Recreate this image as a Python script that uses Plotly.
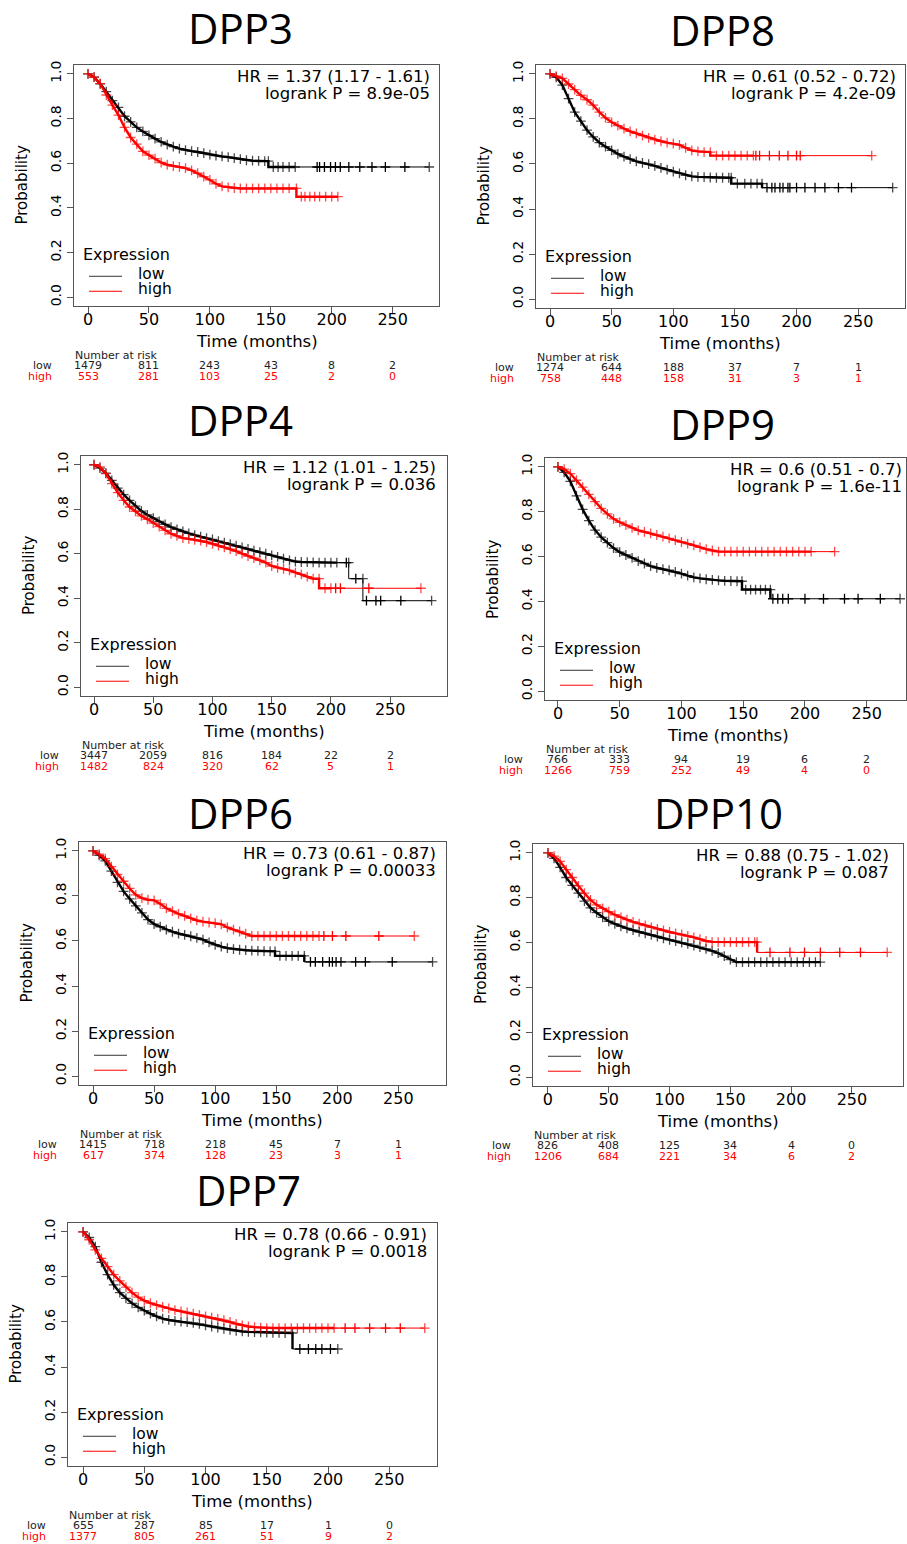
import numpy as np
import plotly.graph_objects as go

W, H = 907, 1544
FONT = "DejaVu Sans"
TITLE_FONT = "Open Sans"
RED = "#ff0000"
BLACK = "#000000"

TICKS_X = [0, 50, 100, 150, 200, 250]
TICKS_Y = [0.0, 0.2, 0.4, 0.6, 0.8, 1.0]
TICK_Y_LABELS = ["0.0", "0.2", "0.4", "0.6", "0.8", "1.0"]

GENES = ["DPP3", "DPP8", "DPP4", "DPP9", "DPP6", "DPP10", "DPP7"]

HR_TEXT = ["HR = 1.37 (1.17 - 1.61)", "HR = 0.61 (0.52 - 0.72)", "HR = 1.12 (1.01 - 1.25)",
           "HR = 0.6 (0.51 - 0.7)", "HR = 0.73 (0.61 - 0.87)", "HR = 0.88 (0.75 - 1.02)",
           "HR = 0.78 (0.66 - 0.91)"]
P_TEXT = ["logrank P = 8.9e-05", "logrank P = 4.2e-09", "logrank P = 0.036",
          "logrank P = 1.6e-11", "logrank P = 0.00033", "logrank P = 0.087",
          "logrank P = 0.0018"]

# Number at risk (at 0, 50, 100, 150, 200, 250 months)
RISK_LOW = [
    [1479, 811, 243, 43, 8, 2],
    [1274, 644, 188, 37, 7, 1],
    [3447, 2059, 816, 184, 22, 2],
    [766, 333, 94, 19, 6, 2],
    [1415, 718, 218, 45, 7, 1],
    [826, 408, 125, 34, 4, 0],
    [655, 287, 85, 17, 1, 0],
]
RISK_HIGH = [
    [553, 281, 103, 25, 2, 0],
    [758, 448, 158, 31, 3, 1],
    [1482, 824, 320, 62, 5, 1],
    [1266, 759, 252, 49, 4, 0],
    [617, 374, 128, 23, 3, 1],
    [1206, 684, 221, 34, 6, 2],
    [1377, 805, 261, 51, 9, 2],
]

# ---------------- Kaplan-Meier curves (time in months, survival probability) -------------
DPP3_low_time = [0, 5, 10, 15, 20, 25, 30, 35, 40, 45, 50, 55, 60, 65, 70, 75, 80, 85, 90, 95, 100,
                 105, 110, 115, 120, 125, 130, 135, 140, 145, 148, 148, 152, 156, 160, 165, 170, 280]
DPP3_low_surv = [1.0, 0.985, 0.955, 0.92, 0.88, 0.85, 0.81, 0.785, 0.76, 0.742, 0.724, 0.71, 0.695,
                 0.683, 0.674, 0.665, 0.658, 0.654, 0.65, 0.645, 0.638, 0.634, 0.63, 0.627, 0.623,
                 0.618, 0.613, 0.611, 0.61, 0.609, 0.609, 0.583, 0.583, 0.583, 0.583, 0.583, 0.583, 0.583]
DPP3_low_cens = [188, 190, 194, 199, 203, 207, 214, 223, 233, 244, 260]

DPP3_high_time = [0, 5, 10, 15, 20, 25, 30, 35, 40, 45, 50, 55, 60, 65, 70, 75, 80, 85, 90, 95, 100,
                  105, 110, 115, 120, 125, 130, 135, 140, 145, 150, 155, 160, 165, 171, 171, 175,
                  178, 182, 186, 190, 195, 200, 205]
DPP3_high_surv = [1.0, 0.985, 0.956, 0.905, 0.86, 0.815, 0.76, 0.715, 0.685, 0.653, 0.636, 0.62,
                  0.603, 0.593, 0.587, 0.583, 0.578, 0.568, 0.555, 0.54, 0.525, 0.508, 0.496, 0.492,
                  0.489, 0.487, 0.487, 0.487, 0.487, 0.487, 0.487, 0.487, 0.487, 0.487, 0.487, 0.45,
                  0.45, 0.45, 0.45, 0.45, 0.45, 0.45, 0.45, 0.45]
DPP3_high_cens = []

DPP8_low_time = [0, 5, 10, 15, 20, 25, 30, 35, 40, 45, 50, 55, 60, 65, 70, 75, 80, 85, 90, 95, 100,
                 105, 110, 115, 120, 125, 130, 135, 140, 145, 147, 147, 152, 158, 163, 168, 172, 172, 278]
DPP8_low_surv = [1.0, 0.985, 0.95, 0.89, 0.83, 0.79, 0.75, 0.72, 0.695, 0.677, 0.66, 0.645, 0.633,
                 0.622, 0.612, 0.605, 0.599, 0.592, 0.583, 0.575, 0.566, 0.558, 0.55, 0.545, 0.543,
                 0.542, 0.54, 0.539, 0.539, 0.539, 0.539, 0.513, 0.513, 0.513, 0.513, 0.513, 0.513,
                 0.495, 0.495]
DPP8_low_cens = [176, 180, 182.5, 186.5, 189, 193, 194.6, 200, 206.8, 215, 223, 234, 244.6]

DPP8_high_time = [0, 5, 10, 15, 20, 25, 30, 35, 40, 45, 50, 55, 60, 65, 70, 75, 80, 85, 90, 95, 100,
                  105, 110, 115, 120, 125, 130, 130, 135, 140, 145, 150, 155, 160, 165, 261]
DPP8_high_surv = [1.0, 0.99, 0.98, 0.955, 0.93, 0.905, 0.885, 0.861, 0.83, 0.805, 0.785, 0.77, 0.757,
                  0.745, 0.736, 0.726, 0.716, 0.708, 0.701, 0.695, 0.69, 0.685, 0.672, 0.66, 0.656,
                  0.653, 0.653, 0.637, 0.637, 0.637, 0.637, 0.637, 0.637, 0.637, 0.637, 0.637]
DPP8_high_cens = [167, 170, 178, 186, 193, 200, 203]

DPP4_low_time = [0, 5, 10, 15, 20, 25, 30, 35, 40, 45, 50, 55, 60, 65, 70, 75, 80, 85, 90, 95, 100,
                 105, 110, 115, 120, 125, 130, 135, 140, 145, 150, 155, 160, 165, 170, 175, 180, 185,
                 190, 195, 200, 205, 215, 215, 227, 227, 285]
DPP4_low_surv = [1.0, 0.985, 0.962, 0.93, 0.895, 0.866, 0.84, 0.814, 0.792, 0.775, 0.76, 0.745, 0.732,
                 0.72, 0.71, 0.70, 0.692, 0.684, 0.677, 0.67, 0.664, 0.657, 0.65, 0.643, 0.636, 0.629,
                 0.622, 0.614, 0.607, 0.60, 0.593, 0.586, 0.578, 0.57, 0.565, 0.563, 0.562, 0.561,
                 0.56, 0.56, 0.56, 0.56, 0.56, 0.488, 0.488, 0.389, 0.389]
DPP4_low_cens = [213, 221, 230, 238, 242, 259]

DPP4_high_time = [0, 5, 10, 15, 20, 25, 30, 35, 40, 45, 50, 55, 60, 65, 70, 75, 80, 85, 90, 95, 100,
                  105, 110, 115, 120, 125, 130, 135, 140, 145, 150, 155, 160, 165, 170, 175, 180, 185,
                  190, 190, 195, 200, 276]
DPP4_high_surv = [1.0, 0.99, 0.96, 0.915, 0.875, 0.84, 0.81, 0.79, 0.77, 0.755, 0.738, 0.722, 0.705,
                  0.69, 0.68, 0.67, 0.667, 0.663, 0.659, 0.652, 0.645, 0.637, 0.629, 0.621, 0.612,
                  0.601, 0.59, 0.58, 0.57, 0.56, 0.545, 0.537, 0.532, 0.525, 0.515, 0.507, 0.497,
                  0.488, 0.488, 0.445, 0.445, 0.445, 0.445]
DPP4_high_cens = [204, 208, 232]

DPP9_low_time = [0, 5, 10, 15, 20, 25, 30, 35, 40, 45, 50, 55, 60, 65, 70, 75, 80, 85, 90, 95, 100,
                 105, 110, 115, 120, 125, 130, 135, 140, 145, 149, 149, 152, 156, 160, 164, 168, 172,
                 172, 277]
DPP9_low_surv = [1.0, 0.975, 0.935, 0.87, 0.81, 0.76, 0.718, 0.687, 0.662, 0.638, 0.62, 0.607, 0.594,
                 0.58, 0.569, 0.557, 0.55, 0.544, 0.539, 0.532, 0.524, 0.515, 0.507, 0.503, 0.499,
                 0.496, 0.494, 0.492, 0.491, 0.49, 0.49, 0.453, 0.453, 0.453, 0.453, 0.453, 0.453,
                 0.453, 0.412, 0.412]
DPP9_low_cens = [174, 178, 182, 186.5, 200, 215, 232, 243, 261]

DPP9_high_time = [0, 5, 10, 15, 20, 25, 30, 35, 40, 45, 50, 55, 60, 65, 70, 75, 80, 85, 90, 95, 100,
                  105, 110, 115, 120, 125, 130, 135, 140, 145, 150, 155, 160, 165, 170, 175, 180, 185,
                  190, 195, 200, 205, 224]
DPP9_high_surv = [1.0, 0.99, 0.97, 0.94, 0.909, 0.877, 0.845, 0.815, 0.79, 0.768, 0.753, 0.74, 0.728,
                  0.717, 0.71, 0.703, 0.696, 0.689, 0.681, 0.673, 0.665, 0.658, 0.65, 0.641, 0.633,
                  0.627, 0.622, 0.622, 0.622, 0.622, 0.622, 0.622, 0.622, 0.622, 0.622, 0.622, 0.622,
                  0.622, 0.622, 0.622, 0.622, 0.622, 0.622]
DPP9_high_cens = []

DPP6_low_time = [0, 5, 10, 15, 20, 25, 30, 35, 40, 45, 50, 55, 60, 65, 70, 75, 80, 85, 90, 95, 100,
                 105, 110, 115, 120, 125, 130, 135, 140, 145, 149, 149, 153, 158, 163, 168, 173, 173, 278]
DPP6_low_surv = [1.0, 0.98, 0.955, 0.91, 0.86, 0.82, 0.787, 0.756, 0.725, 0.695, 0.675, 0.663, 0.65,
                 0.641, 0.633, 0.627, 0.621, 0.614, 0.606, 0.594, 0.583, 0.575, 0.568, 0.564, 0.561,
                 0.559, 0.557, 0.556, 0.555, 0.554, 0.554, 0.534, 0.534, 0.534, 0.534, 0.534, 0.534,
                 0.507, 0.507]
DPP6_low_cens = [178, 182, 188, 193.5, 196, 199, 203, 215, 223, 245]

DPP6_high_time = [0, 5, 10, 15, 20, 25, 30, 35, 40, 45, 50, 55, 60, 65, 70, 75, 80, 85, 90, 95, 100,
                  105, 110, 115, 120, 125, 130, 135, 140, 145, 150, 155, 160, 165, 170, 175, 180, 185, 263]
DPP6_high_surv = [1.0, 0.985, 0.965, 0.93, 0.895, 0.865, 0.833, 0.805, 0.79, 0.783, 0.78, 0.765, 0.745,
                  0.732, 0.72, 0.711, 0.70, 0.691, 0.686, 0.682, 0.679, 0.674, 0.66, 0.65, 0.642,
                  0.632, 0.622, 0.622, 0.622, 0.622, 0.622, 0.622, 0.622, 0.622, 0.622, 0.622, 0.622,
                  0.622, 0.622]
DPP6_high_cens = [189, 196, 207, 234]

DPP10_low_time = [0, 5, 10, 15, 20, 25, 30, 35, 40, 45, 50, 55, 60, 65, 70, 75, 80, 85, 90, 95, 100,
                  105, 110, 115, 120, 125, 130, 135, 140, 145, 150, 155, 160, 165, 170, 175, 180, 185,
                  190, 195, 200, 205, 210, 215, 220, 224]
DPP10_low_surv = [1.0, 0.975, 0.935, 0.89, 0.855, 0.82, 0.785, 0.755, 0.733, 0.712, 0.695, 0.683,
                  0.672, 0.663, 0.655, 0.648, 0.641, 0.634, 0.627, 0.619, 0.612, 0.606, 0.60, 0.594,
                  0.587, 0.58, 0.572, 0.563, 0.553, 0.54, 0.524, 0.513, 0.513, 0.513, 0.513, 0.513,
                  0.513, 0.513, 0.513, 0.513, 0.513, 0.513, 0.513, 0.513, 0.513, 0.513]
DPP10_low_cens = []

DPP10_high_time = [0, 5, 10, 15, 20, 25, 30, 35, 40, 45, 50, 55, 60, 65, 70, 75, 80, 85, 90, 95, 100,
                   105, 110, 115, 120, 125, 130, 135, 140, 145, 150, 155, 160, 165, 170, 172, 172, 279]
DPP10_high_surv = [1.0, 0.985, 0.962, 0.925, 0.89, 0.853, 0.82, 0.79, 0.768, 0.752, 0.738, 0.724,
                   0.712, 0.702, 0.692, 0.684, 0.676, 0.668, 0.661, 0.654, 0.647, 0.641, 0.636, 0.63,
                   0.623, 0.615, 0.607, 0.603, 0.602, 0.602, 0.602, 0.602, 0.602, 0.602, 0.602,
                   0.602, 0.556, 0.556]
DPP10_high_cens = [182.6, 199, 211, 224, 240, 257]

DPP7_low_time = [0, 5, 10, 15, 20, 25, 30, 35, 40, 45, 50, 55, 60, 65, 70, 75, 80, 85, 90, 95, 100,
                 105, 110, 115, 120, 125, 130, 135, 140, 145, 150, 155, 160, 165, 171, 171, 208]
DPP7_low_surv = [1.0, 0.975, 0.934, 0.865, 0.81, 0.765, 0.73, 0.705, 0.683, 0.665, 0.65, 0.637, 0.625,
                 0.615, 0.609, 0.605, 0.602, 0.599, 0.596, 0.592, 0.585, 0.58, 0.575, 0.57, 0.565,
                 0.561, 0.558, 0.556, 0.555, 0.554, 0.553, 0.552, 0.552, 0.551, 0.551, 0.48, 0.48]
DPP7_low_cens = [177, 184, 190, 195, 202]

DPP7_high_time = [0, 5, 10, 15, 20, 25, 30, 35, 40, 45, 50, 55, 60, 65, 70, 75, 80, 85, 90, 95, 100,
                  105, 110, 115, 120, 125, 130, 135, 140, 145, 150, 155, 160, 165, 170, 175, 180, 185,
                  190, 195, 200, 205, 279]
DPP7_high_surv = [1.0, 0.965, 0.92, 0.882, 0.846, 0.81, 0.782, 0.755, 0.73, 0.71, 0.695, 0.684, 0.675,
                  0.667, 0.66, 0.653, 0.647, 0.642, 0.637, 0.631, 0.625, 0.619, 0.614, 0.608, 0.60,
                  0.592, 0.585, 0.58, 0.577, 0.575, 0.573, 0.573, 0.573, 0.573, 0.573, 0.573, 0.573,
                  0.573, 0.573, 0.573, 0.573, 0.573, 0.573]
DPP7_high_cens = [214, 222, 234, 247, 259]

CURVES = {
    "DPP3": {"low": (DPP3_low_time, DPP3_low_surv, DPP3_low_cens),
             "high": (DPP3_high_time, DPP3_high_surv, DPP3_high_cens)},
    "DPP8": {"low": (DPP8_low_time, DPP8_low_surv, DPP8_low_cens),
             "high": (DPP8_high_time, DPP8_high_surv, DPP8_high_cens)},
    "DPP4": {"low": (DPP4_low_time, DPP4_low_surv, DPP4_low_cens),
             "high": (DPP4_high_time, DPP4_high_surv, DPP4_high_cens)},
    "DPP9": {"low": (DPP9_low_time, DPP9_low_surv, DPP9_low_cens),
             "high": (DPP9_high_time, DPP9_high_surv, DPP9_high_cens)},
    "DPP6": {"low": (DPP6_low_time, DPP6_low_surv, DPP6_low_cens),
             "high": (DPP6_high_time, DPP6_high_surv, DPP6_high_cens)},
    "DPP10": {"low": (DPP10_low_time, DPP10_low_surv, DPP10_low_cens),
              "high": (DPP10_high_time, DPP10_high_surv, DPP10_high_cens)},
    "DPP7": {"low": (DPP7_low_time, DPP7_low_surv, DPP7_low_cens),
             "high": (DPP7_high_time, DPP7_high_surv, DPP7_high_cens)},
}

# ---------------- layout of panels (pixel boxes) ----------------
PANELS = [
    dict(box=(74, 61, 439, 303), xr=(-11.5, 288), title=(240, 28), hr_x=431, time_x=257),
    dict(box=(536, 61, 905, 305), xr=(-11.4, 288), title=(722, 30), hr_x=897, time_x=720),
    dict(box=(81, 453, 447, 694), xr=(-11, 298), title=(240, 421), hr_x=437, time_x=264),
    dict(box=(545, 455, 906, 698), xr=(-10.5, 281.8), title=(722, 425), hr_x=903, time_x=728),
    dict(box=(79, 840, 446, 1084), xr=(-11.5, 289), title=(240, 815), hr_x=437, time_x=262),
    dict(box=(533, 842, 903, 1085), xr=(-12.3, 292), title=(718, 815), hr_x=890, time_x=718),
    dict(box=(68, 1222, 437, 1466), xr=(-12.3, 289), title=(249, 1193), hr_x=428, time_x=252),
]


def PX(x):
    return x / W


def PY(y):
    return 1 - y / H


fig = go.Figure()
annotations = []
shapes = []

axis_common = dict(showline=True, mirror=True, linecolor="#555555", linewidth=1,
                   ticks="outside", ticklen=6, tickcolor="#555555", tickwidth=1,
                   showgrid=False, zeroline=False, fixedrange=True)

for i, gene in enumerate(GENES):
    p = PANELS[i]
    k = i + 1
    sfx = "" if k == 1 else str(k)
    xa, ya = "x" + sfx, "y" + sfx
    x0, y0, x1, y1 = p["box"]

    fig.update_layout({
        "xaxis" + sfx: dict(domain=[PX(x0), PX(x1)], range=list(p["xr"]), anchor=ya,
                            tickvals=TICKS_X, ticklabelstandoff=-7,
                            tickfont=dict(family=FONT, size=16, color="black"),
                            **axis_common),
        "yaxis" + sfx: dict(domain=[PY(y1), PY(y0)], range=[-0.04, 1.04], anchor=xa,
                            tickvals=TICKS_Y, ticktext=TICK_Y_LABELS, tickangle=-90,
                            tickfont=dict(family=FONT, size=14, color="black"),
                            **axis_common),
    })

    for grp, col in (("low", BLACK), ("high", RED)):
        t, s, c = CURVES[gene][grp]
        t = np.asarray(t, float)
        s = np.asarray(s, float)
        # heavier band where censor marks are dense (before the first large gap in time)
        gaps = np.nonzero(np.diff(t) > 8)[0]
        m = (gaps[0] + 1) if len(gaps) else len(t)
        fig.add_trace(go.Scatter(
            x=t[:m], y=s[:m], mode="lines", xaxis=xa, yaxis=ya, showlegend=False,
            hoverinfo="skip", line=dict(color=col, width=2.4),
        ))
        sizes = [0 if (j > 0 and t[j] == t[j - 1]) else 7 for j in range(len(t))]
        fig.add_trace(go.Scatter(
            x=t, y=s, mode="lines+markers", xaxis=xa, yaxis=ya, showlegend=False,
            hoverinfo="skip",
            line=dict(color=col, width=1),
            marker=dict(symbol="cross-thin", size=sizes, color=col, line=dict(color=col, width=1.3)),
        ))
        if len(c):
            c = np.asarray(c, float)
            idx = np.searchsorted(t, c, side="right") - 1
            fig.add_trace(go.Scatter(
                x=c, y=s[idx], mode="markers", xaxis=xa, yaxis=ya, showlegend=False,
                hoverinfo="skip",
                marker=dict(symbol="cross-thin", size=7, color=col, line=dict(color=col, width=1.3)),
            ))

    # title
    annotations.append(dict(text=gene, x=PX(p["title"][0]), y=PY(p["title"][1] - 4), xref="paper",
                            yref="paper", showarrow=False, xanchor="center", yanchor="middle",
                            font=dict(family=TITLE_FONT, size=42, color="black")))
    # HR / logrank
    annotations.append(dict(text=HR_TEXT[i], x=PX(p["hr_x"]), y=PY(y0 + 12), xref="paper",
                            yref="paper", showarrow=False, xanchor="right", yanchor="middle",
                            borderpad=0, font=dict(family=FONT, size=16.5, color="black")))
    annotations.append(dict(text=P_TEXT[i], x=PX(p["hr_x"]), y=PY(y0 + 29), xref="paper",
                            yref="paper", showarrow=False, xanchor="right", yanchor="middle",
                            borderpad=0, font=dict(family=FONT, size=16.5, color="black")))
    # axis titles
    annotations.append(dict(text="Probability", x=PX(x0 - 52), y=PY((y0 + y1) / 2), xref="paper",
                            yref="paper", showarrow=False, textangle=-90, xanchor="center",
                            yanchor="middle", font=dict(family=FONT, size=15, color="black")))
    annotations.append(dict(text="Time (months)", x=PX(p["time_x"]), y=PY(y1 + 35), xref="paper",
                            yref="paper", showarrow=False, xanchor="center", yanchor="middle",
                            font=dict(family=FONT, size=16.5, color="black")))
    # legend
    annotations.append(dict(text="Expression", x=PX(x0 + 8), y=PY(y1 - 52), xref="paper",
                            yref="paper", showarrow=False, xanchor="left", yanchor="middle",
                            borderpad=0, font=dict(family=FONT, size=16, color="black")))
    for lab, col, dy in (("low", "#333333", 30), ("high", RED, 15)):
        shapes.append(dict(type="line", xref="paper", yref="paper", x0=PX(x0 + 15), x1=PX(x0 + 48),
                           y0=PY(y1 - dy), y1=PY(y1 - dy), line=dict(color=col, width=1)))
        annotations.append(dict(text=lab, x=PX(x0 + 63), y=PY(y1 - dy - 2), xref="paper",
                                yref="paper", showarrow=False, xanchor="left", yanchor="middle",
                                borderpad=0, font=dict(family=FONT, size=15.5, color="black")))
    # number at risk table
    annotations.append(dict(text="Number at risk", x=PX(x0), y=PY(y1 + 49), xref="paper",
                            yref="paper", showarrow=False, xanchor="left", yanchor="middle",
                            borderpad=0, font=dict(family=FONT, size=11, color="#222222")))
    for lab, vals, col, dy in (("low", RISK_LOW[i], "#222222", 59), ("high", RISK_HIGH[i], RED, 70)):
        annotations.append(dict(text=lab, x=PX(x0 - 21), y=PY(y1 + dy), xref="paper",
                                yref="paper", showarrow=False, xanchor="right", yanchor="middle",
                                borderpad=0, font=dict(family=FONT, size=11, color=col)))
        for tv, v in zip(TICKS_X, vals):
            annotations.append(dict(text=str(v), x=tv, y=PY(y1 + dy), xref=xa, yref="paper",
                                    showarrow=False, xanchor="center", yanchor="middle",
                                    borderpad=0, font=dict(family=FONT, size=11, color=col)))

fig.update_layout(
    width=W, height=H,
    margin=dict(l=0, r=0, t=0, b=0),
    paper_bgcolor="white", plot_bgcolor="white",
    showlegend=False,
    annotations=annotations, shapes=shapes,
)

fig.write_html("out.html", config={"displayModeBar": False},
               post_script="document.body.style.margin='0px';")
